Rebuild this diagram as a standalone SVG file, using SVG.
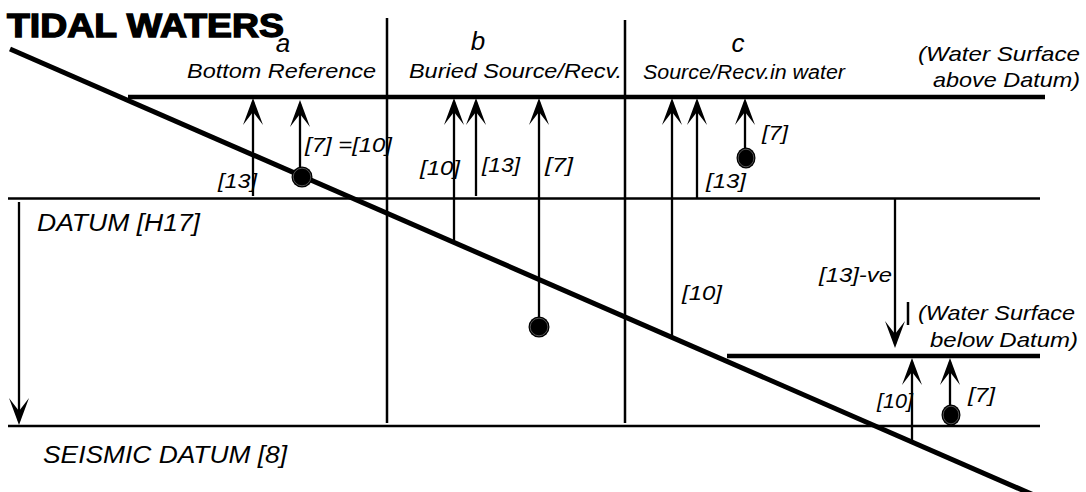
<svg xmlns="http://www.w3.org/2000/svg" width="1086" height="492" viewBox="0 0 1086 492">
<style>
.t{font-family:"Liberation Sans",Arial,Helvetica,sans-serif;font-style:italic;font-size:21px;fill:#000}
.big{font-size:26px}
.mid{font-size:20px}
.d1{font-size:23px}
.d2{font-size:24px}
.title{font-family:"Liberation Sans",Arial,Helvetica,sans-serif;font-weight:bold;font-size:34px;fill:#000;stroke:#000;stroke-width:1.4}
.thick{stroke:#000;stroke-width:4.5;fill:none}
.thin{stroke:#000;stroke-width:2.5;fill:none}
.arr{stroke:#000;stroke-width:2.3;fill:none;marker-end:url(#ah)}
.dot{fill:#000}
.ring{fill:none;stroke:#777;stroke-width:0.7}
</style>
<defs>
<marker id="ah" viewBox="-25 -12 31 24" markerWidth="31" markerHeight="24" refX="0" refY="0" orient="auto" markerUnits="userSpaceOnUse">
<path d="M4,0 L-23,-10 L-10,0 L-23,10 Z" fill="#000"/>
</marker>
</defs>
<rect width="1086" height="492" fill="#fff"/>

<g id="title"><text class="title" x="7" y="37" textLength="277" lengthAdjust="spacingAndGlyphs">TIDAL WATERS</text></g>

<g id="levels">
<line class="thin" x1="8" y1="198.5" x2="1040" y2="198.5"/>
<line class="thin" x1="8" y1="426" x2="1040" y2="426"/>
<line class="thick" x1="128" y1="97" x2="1045" y2="97"/>
<line class="thick" x1="727" y1="356" x2="1040" y2="356"/>
<line class="thin" x1="387" y1="18" x2="387" y2="423"/>
<line class="thin" x1="625" y1="20" x2="625" y2="423"/>
<line stroke="#000" stroke-width="5" x1="10" y1="49" x2="1036" y2="496"/>
</g>

<g id="connectors">
<line class="arr" x1="19" y1="202" x2="19" y2="421"/>
<line class="arr" x1="253" y1="196" x2="253" y2="102"/>
<line class="arr" x1="300" y1="170" x2="300" y2="104"/>
<line class="arr" x1="454" y1="242" x2="454" y2="102"/>
<line class="arr" x1="476" y1="196" x2="476" y2="102"/>
<line class="arr" x1="539" y1="318" x2="539" y2="102"/>
<line class="arr" x1="672" y1="336" x2="672" y2="102"/>
<line class="arr" x1="697" y1="198" x2="697" y2="102"/>
<line class="arr" x1="745" y1="150" x2="745" y2="102"/>
<line class="arr" x1="895" y1="199" x2="895" y2="344"/>
<line class="thin" x1="908" y1="302" x2="908" y2="325"/>
<line class="arr" x1="912" y1="442" x2="912" y2="362"/>
<line class="arr" x1="950" y1="406" x2="950" y2="362"/>
</g>

<g id="dot-a"><circle class="dot" cx="302" cy="177" r="10.5"/><circle class="ring" cx="302" cy="177" r="8.8"/></g>
<g id="dot-b"><circle class="dot" cx="539" cy="327" r="10.5"/><circle class="ring" cx="539" cy="327" r="8.8"/></g>
<g id="dot-c"><ellipse class="dot" cx="746" cy="158" rx="9.5" ry="10.5"/><ellipse class="ring" cx="746" cy="158" rx="7.8" ry="8.8"/></g>
<g id="dot-d"><ellipse class="dot" cx="951" cy="415" rx="9.5" ry="10.5"/><ellipse class="ring" cx="951" cy="415" rx="7.8" ry="8.8"/></g>

<g id="col-a">
<text class="t big" x="283" y="52" text-anchor="middle">a</text>
<text class="t" x="187" y="78" textLength="189" lengthAdjust="spacingAndGlyphs">Bottom Reference</text>
<text class="t" x="218" y="188" textLength="39" lengthAdjust="spacingAndGlyphs">[13]</text>
<text class="t" x="305" y="152" textLength="87" lengthAdjust="spacingAndGlyphs">[7] =[10]</text>
</g>
<g id="col-b">
<text class="t big" x="478" y="50" text-anchor="middle">b</text>
<text class="t" x="409" y="78" textLength="213" lengthAdjust="spacingAndGlyphs">Buried Source/Recv.</text>
<text class="t" x="420" y="175" textLength="40" lengthAdjust="spacingAndGlyphs">[10]</text>
<text class="t" x="482" y="172" textLength="38" lengthAdjust="spacingAndGlyphs">[13]</text>
<text class="t" x="545" y="172" textLength="28" lengthAdjust="spacingAndGlyphs">[7]</text>
</g>
<g id="col-c">
<text class="t big" x="738" y="52" text-anchor="middle">c</text>
<text class="t mid" x="643" y="79" textLength="202" lengthAdjust="spacingAndGlyphs">Source/Recv.in water</text>
<text class="t" x="762" y="140" textLength="26" lengthAdjust="spacingAndGlyphs">[7]</text>
<text class="t" x="706" y="188" textLength="40" lengthAdjust="spacingAndGlyphs">[13]</text>
<text class="t" x="682" y="300" textLength="40" lengthAdjust="spacingAndGlyphs">[10]</text>
</g>
<g id="water-above">
<text class="t" x="918" y="61" textLength="162" lengthAdjust="spacingAndGlyphs">(Water Surface</text>
<text class="t" x="933" y="87" textLength="147" lengthAdjust="spacingAndGlyphs">above Datum)</text>
</g>
<g id="water-below">
<text class="t" x="819" y="282" textLength="73" lengthAdjust="spacingAndGlyphs">[13]-ve</text>
<text class="t" x="918" y="320" textLength="157" lengthAdjust="spacingAndGlyphs">(Water Surface</text>
<text class="t" x="930" y="347" textLength="148" lengthAdjust="spacingAndGlyphs">below Datum)</text>
<text class="t" x="877" y="408" textLength="36" lengthAdjust="spacingAndGlyphs">[10]</text>
<text class="t" x="968" y="402" textLength="27" lengthAdjust="spacingAndGlyphs">[7]</text>
</g>
<g id="datums">
<text class="t d1" x="37" y="231" textLength="163" lengthAdjust="spacingAndGlyphs">DATUM [H17]</text>
<text class="t d2" x="43" y="463" textLength="244" lengthAdjust="spacingAndGlyphs">SEISMIC DATUM [8]</text>
</g>
</svg>
